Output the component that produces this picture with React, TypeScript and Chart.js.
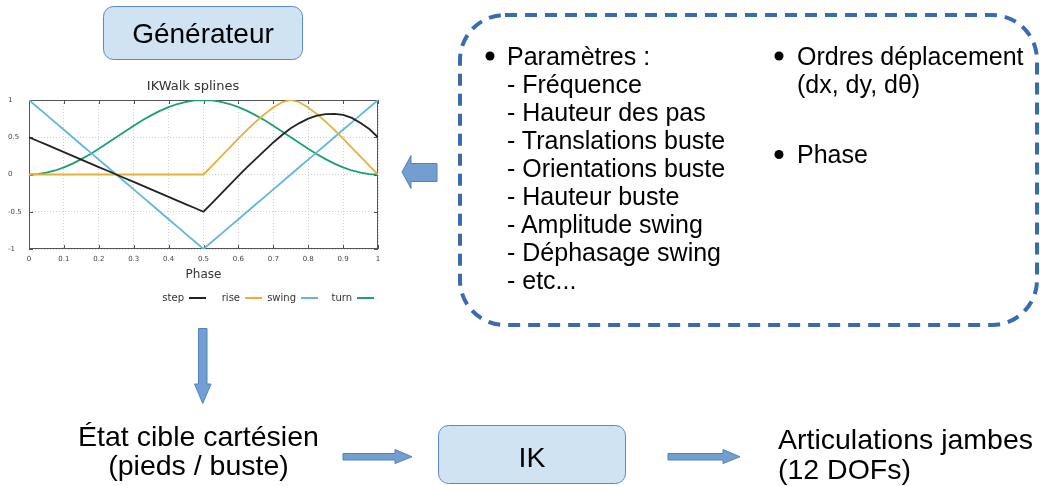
import React, { useEffect, useRef } from "react";
import { Chart, registerables } from "chart.js";

Chart.register(...registerables);

// ---- chart data ----
const phase = [
  0, 0.025, 0.05, 0.075, 0.1, 0.125, 0.15, 0.175, 0.2, 0.225, 0.25, 0.275, 0.3, 0.325, 0.35, 0.375, 0.4,
  0.425, 0.45, 0.475, 0.5, 0.525, 0.55, 0.575, 0.6, 0.625, 0.65, 0.675, 0.7, 0.725, 0.75, 0.775, 0.8,
  0.825, 0.85, 0.875, 0.9, 0.925, 0.95, 0.975, 1,
];
const stepSeries = [
  0.5, 0.45, 0.4, 0.35, 0.3, 0.25, 0.2, 0.15, 0.1, 0.05, 0, -0.05, -0.1, -0.15, -0.2, -0.25, -0.3, -0.35,
  -0.4, -0.45, -0.5, -0.38, -0.26, -0.14, -0.02, 0.1, 0.21, 0.32, 0.43, 0.53, 0.62, 0.69, 0.75, 0.79, 0.81,
  0.815, 0.8, 0.76, 0.69, 0.61, 0.5,
];
const riseSeries = [
  0, 0, 0, 0, 0, 0, 0, 0, 0, 0, 0, 0, 0, 0, 0, 0, 0, 0, 0, 0, 0, 0.12, 0.24, 0.36, 0.48, 0.6, 0.71, 0.81,
  0.9, 0.97, 1, 0.97, 0.9, 0.81, 0.71, 0.6, 0.48, 0.36, 0.24, 0.12, 0,
];
const swingSeries = [
  1, 0.9, 0.8, 0.7, 0.6, 0.5, 0.4, 0.3, 0.2, 0.1, 0, -0.1, -0.2, -0.3, -0.4, -0.5, -0.6, -0.7, -0.8, -0.9,
  -1, -0.9, -0.8, -0.7, -0.6, -0.5, -0.4, -0.3, -0.2, -0.1, 0, 0.1, 0.2, 0.3, 0.4, 0.5, 0.6, 0.7, 0.8, 0.9, 1,
];
const turnSeries = [
  0, 0.006, 0.024, 0.054, 0.095, 0.146, 0.206, 0.273, 0.345, 0.422, 0.5, 0.578, 0.655, 0.727, 0.794, 0.854,
  0.905, 0.946, 0.976, 0.994, 1, 0.994, 0.976, 0.946, 0.905, 0.854, 0.794, 0.727, 0.655, 0.578, 0.5, 0.422,
  0.345, 0.273, 0.206, 0.146, 0.095, 0.054, 0.024, 0.006, 0,
];
const seriesNames = ["step", "rise", "swing", "turn"];
const seriesColors = ["#222222", "#e5b235", "#62b6e0", "#1c9f78"];
const xTickLabels = ["0", "0.1", "0.2", "0.3", "0.4", "0.5", "0.6", "0.7", "0.8", "0.9", "1"];
const yTickLabels = ["-1", "-0.5", "0", "0.5", "1"];
const chartTitle = "IKWalk splines";
const xAxisTitle = "Phase";

// ---- diagram texts ----
const paramHeader = "Paramètres :";
const paramLines = [
  "- Fréquence",
  "- Hauteur des pas",
  "- Translations buste",
  "- Orientations buste",
  "- Hauteur buste",
  "- Amplitude swing",
  "- Déphasage swing",
  "- etc...",
];
const ordersLines = ["Ordres déplacement", "(dx, dy, dθ)"];
const phaseItem = "Phase";
const generatorLabel = "Générateur";
const targetLines = ["État cible cartésien", "(pieds / buste)"];
const ikLabel = "IK";
const jointLines = ["Articulations jambes", "(12 DOFs)"];

const CHART_FONT = '"DejaVu Sans", sans-serif';

function SplineChart() {
  const ref = useRef<HTMLCanvasElement | null>(null);
  useEffect(() => {
    if (!ref.current) return;
    const all = [stepSeries, riseSeries, swingSeries, turnSeries];
    const framePlugin = {
      id: "frameBox",
      beforeDatasetsDraw(chart: any) {
        const { ctx, chartArea: a, scales } = chart;
        ctx.save();
        ctx.strokeStyle = "#555555";
        ctx.lineWidth = 1;
        ctx.strokeRect(a.left + 0.5, a.top + 0.5, a.right - a.left - 1, a.bottom - a.top - 1);
        ctx.beginPath();
        scales.x.ticks.forEach((t: any) => {
          const px = Math.round(scales.x.getPixelForValue(t.value)) + 0.5;
          ctx.moveTo(px, a.bottom);
          ctx.lineTo(px, a.bottom - 4);
          ctx.moveTo(px, a.top);
          ctx.lineTo(px, a.top + 4);
        });
        scales.y.ticks.forEach((t: any) => {
          const py = Math.round(scales.y.getPixelForValue(t.value)) + 0.5;
          ctx.moveTo(a.left, py);
          ctx.lineTo(a.left + 4, py);
          ctx.moveTo(a.right, py);
          ctx.lineTo(a.right - 4, py);
        });
        ctx.stroke();
        ctx.restore();
      },
    };
    const legendPlugin = {
      id: "gnuLegend",
      afterDraw(chart: any) {
        const { ctx } = chart;
        const a = chart.chartArea;
        const y = a.bottom + 49;
        ctx.save();
        ctx.font = `10px ${CHART_FONT}`;
        ctx.textAlign = "right";
        ctx.textBaseline = "middle";
        chart.data.datasets.forEach((ds: any, i: number) => {
          const x0 = a.left + 160 + i * 56;
          ctx.fillStyle = "#333333";
          ctx.fillText(ds.label, x0 - 5, y);
          ctx.strokeStyle = ds.borderColor;
          ctx.lineWidth = 2;
          ctx.beginPath();
          ctx.moveTo(x0, y);
          ctx.lineTo(x0 + 17, y);
          ctx.stroke();
        });
        ctx.restore();
      },
    };
    const chart = new Chart(ref.current, {
      type: "line",
      data: {
        datasets: seriesNames.map((name, i) => ({
          label: name,
          data: phase.map((x, j) => ({ x, y: all[i][j] })),
          borderColor: seriesColors[i],
          backgroundColor: seriesColors[i],
          borderWidth: 1.8,
          pointRadius: 0,
          tension: 0,
          fill: false,
        })),
      },
      options: {
        animation: false,
        responsive: false,
        layout: { padding: { left: 8, right: 22, top: 0, bottom: 0 } },
        plugins: {
          legend: { display: false },
          tooltip: { enabled: false },
          title: {
            display: true,
            text: chartTitle,
            color: "#333333",
            font: { family: CHART_FONT, size: 13, weight: "normal" },
            padding: { top: 8.6, bottom: 5.8 },
          },
        },
        scales: {
          x: {
            type: "linear",
            min: 0,
            max: 1,
            ticks: {
              stepSize: 0.1,
              color: "#444444",
              font: { family: CHART_FONT, size: 7 },
              padding: 6,
              maxRotation: 0,
              callback: (_v: any, i: number) => xTickLabels[i],
            },
            grid: { color: "#cfcfcf", lineWidth: 1, drawTicks: false },
            border: { display: false, dash: [1, 2] },
            title: {
              display: true,
              text: xAxisTitle,
              color: "#333333",
              font: { family: CHART_FONT, size: 12 },
              padding: { top: 0, bottom: 27.8 },
            },
            afterFit: (scale: any) => {
              scale.height = 61;
            },
          },
          y: {
            min: -1,
            max: 1,
            ticks: {
              stepSize: 0.5,
              color: "#444444",
              font: { family: CHART_FONT, size: 7 },
              crossAlign: "far",
              padding: 4,
              callback: (_v: any, i: number) => yTickLabels[i],
            },
            grid: { color: "#cfcfcf", lineWidth: 1, drawTicks: false },
            border: { display: false, dash: [1, 2] },
            afterFit: (scale: any) => {
              scale.width = 21;
            },
          },
        },
      },
      plugins: [framePlugin, legendPlugin],
    } as any);
    return () => chart.destroy();
  }, []);
  return <canvas ref={ref} width={400} height={240} style={{ display: "block" }} />;
}

export default function App() {
  const font = '"Liberation Sans", Arial, sans-serif';
  const arrowFill = "#729fd0";
  const arrowStroke = "#5081c2";
  const listSize = 25;
  const bigSize = 28.5;
  return (
    <div
      style={{
        position: "fixed",
        left: 0,
        top: 0,
        width: 1040,
        height: 486,
        background: "#ffffff",
        overflow: "hidden",
      }}
    >
      <div style={{ position: "absolute", left: 0, top: 70, width: 400, height: 240 }}>
        <SplineChart />
      </div>
      <svg
        width={1040}
        height={486}
        style={{ position: "absolute", left: 0, top: 0, pointerEvents: "none" }}
        fontFamily={font}
      >
        {/* Générateur box */}
        <rect x={103.5} y={6.5} width={199} height={53} rx={10} fill="#cfe3f3" stroke="#5a88c8" strokeWidth={1} />
        <text x={203} y={43} textAnchor="middle" fontSize={28} fill="#000">
          {generatorLabel}
        </text>

        {/* left arrow from parameter box */}
        <path
          d="M437 163.5 L411 163.5 L411 155.5 L402 172 L411 188.5 L411 181.5 L437 181.5 Z"
          fill={arrowFill}
          stroke={arrowStroke}
          strokeWidth={1}
        />

        {/* dashed parameter box */}
        <rect
          x={460}
          y={15}
          width={577}
          height={310}
          rx={45}
          fill="none"
          stroke="#3a6ab0"
          strokeWidth={4}
          strokeDasharray="12 8"
        />
        <circle cx={490} cy={56} r={4.5} fill="#000" />
        <text x={507} y={65} fontSize={listSize} fill="#000">
          {paramHeader}
        </text>
        {paramLines.map((t, i) => (
          <text key={t} x={507} y={65 + (i + 1) * 28.05} fontSize={listSize} fill="#000">
            {t}
          </text>
        ))}
        <circle cx={779} cy={56} r={4.5} fill="#000" />
        {ordersLines.map((t, i) => (
          <text key={t} x={797} y={65 + i * 28.05} fontSize={listSize} fill="#000">
            {t}
          </text>
        ))}
        <circle cx={779} cy={154.5} r={4.5} fill="#000" />
        <text x={797} y={163} fontSize={listSize} fill="#000">
          {phaseItem}
        </text>

        {/* down arrow */}
        <path
          d="M198.5 328.5 L207 328.5 L207 384 L211 384 L202.75 403.5 L194.5 384 L198.5 384 Z"
          fill={arrowFill}
          stroke={arrowStroke}
          strokeWidth={1}
        />

        {/* target state */}
        {targetLines.map((t, i) => (
          <text key={t} x={198.5} y={446 + i * 29} textAnchor="middle" fontSize={bigSize} fill="#000">
            {t}
          </text>
        ))}

        {/* arrow to IK */}
        <path
          d="M343 453.5 L395 453.5 L395 449.5 L412 456.75 L395 463.5 L395 460 L343 460 Z"
          fill={arrowFill}
          stroke={arrowStroke}
          strokeWidth={1}
        />

        {/* IK box */}
        <rect x={438.5} y={425.5} width={187} height={58} rx={10} fill="#cfe3f3" stroke="#5a88c8" strokeWidth={1} />
        <text x={532} y={466.5} textAnchor="middle" fontSize={bigSize} fill="#000">
          {ikLabel}
        </text>

        {/* arrow to joints */}
        <path
          d="M668 453.5 L723 453.5 L723 449.5 L740 456.75 L723 463.5 L723 460 L668 460 Z"
          fill={arrowFill}
          stroke={arrowStroke}
          strokeWidth={1}
        />
        {jointLines.map((t, i) => (
          <text key={t} x={778} y={449 + i * 30} fontSize={bigSize} fill="#000">
            {t}
          </text>
        ))}
      </svg>
    </div>
  );
}
